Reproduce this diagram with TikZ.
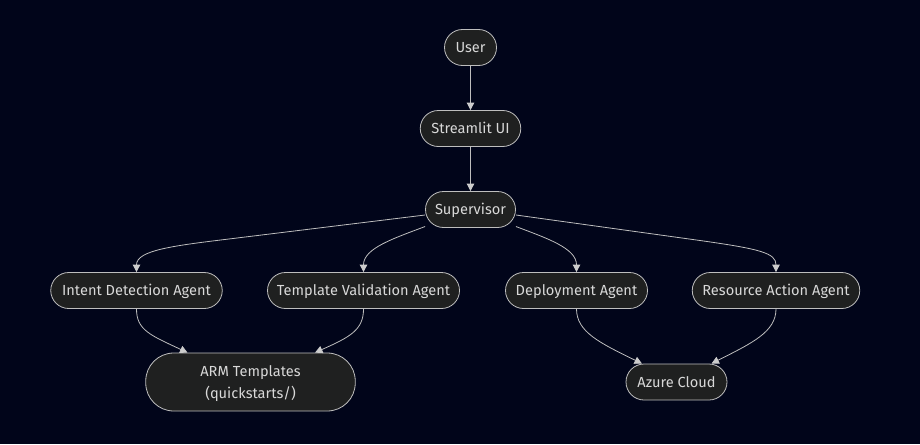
\documentclass[tikz,border=0pt]{standalone}
\usepackage{fontspec}
\setmainfont{Fira Sans}
\usetikzlibrary{arrows.meta,calc}
\definecolor{bgc}{HTML}{01051A}
\definecolor{boxc}{HTML}{1F2020}
\definecolor{edgec}{HTML}{BEBEBE}
\definecolor{tipc}{HTML}{CCCCCC}
\definecolor{txtc}{HTML}{D8D8D8}
\tikzset{
  pill/.style={draw=edgec,line width=0.8pt,fill=boxc,text=txtc,rounded corners=18pt,
    minimum height=36pt,inner sep=0pt,font=\fontsize{14.6}{22}\selectfont,align=center},
  oneline/.style={text height=13pt,text depth=3pt},
  link/.style={draw=edgec,line width=0.8pt,-{Triangle[width=7.5pt,length=7.5pt,color=tipc]}},
}
\begin{document}
\begin{tikzpicture}[x=1pt,y=-1pt]
\fill[bgc] (0,0) rectangle (920,444);
\useasboundingbox (0,0) rectangle (920,444);
\node[pill,oneline,minimum width=52pt] (user) at (470.5,47.5) {User};
\node[pill,oneline,minimum width=100.5pt] (ui) at (470.5,128.5) {Streamlit UI};
\node[pill,oneline,minimum width=90pt] (sup) at (470.5,209.5) {Supervisor};
\node[pill,oneline,minimum width=171.5pt] (intent) at (136.5,290.5) {Intent Detection Agent};
\node[pill,oneline,minimum width=192pt] (tmpl) at (363.5,290.5) {Template Validation Agent};
\node[pill,oneline,minimum width=142pt] (dep) at (576.5,290.5) {Deployment Agent};
\node[pill,oneline,minimum width=167.5pt] (res) at (776,290.5) {Resource Action Agent};
\node[pill,minimum width=209.5pt,minimum height=58pt,rounded corners=28pt] (arm) at (250.5,382) {\rule{0pt}{15pt}ARM Templates\\(quickstarts/)};
\node[pill,oneline,minimum width=101pt] (az) at (676.5,382) {Azure Cloud};
\draw[link] (user) -- (ui);
\draw[link] (ui) -- (sup);
\draw[link] ($(sup.west)+(0,5.5)$) -- (233,238.5) .. controls (175,245.5) and (136.5,250) .. (intent.north);
\draw[link] ($(sup.west)+(0,17)$) .. controls (395,238) and (363.5,248) .. (tmpl.north);
\draw[link] ($(sup.east)+(0,17)$) .. controls (546,238) and (576.5,248) .. (dep.north);
\draw[link] ($(sup.east)+(0,5.5)$) -- (700,240.5) .. controls (760,249) and (776,253) .. (res.north);
\draw[link] (intent.south) .. controls (136.5,330) and (150,335) .. ($(arm.north)+(-63,0)$);
\draw[link] (tmpl.south) .. controls (363.5,330) and (350,337) .. ($(arm.north)+(64.5,0)$);
\draw[link] (dep.south) .. controls (576.5,332) and (600,343) .. ($(az.north)+(-34.5,0)$);
\draw[link] (res.south) .. controls (776,332) and (752,343) .. ($(az.north)+(35,0)$);
\end{tikzpicture}
\end{document}
